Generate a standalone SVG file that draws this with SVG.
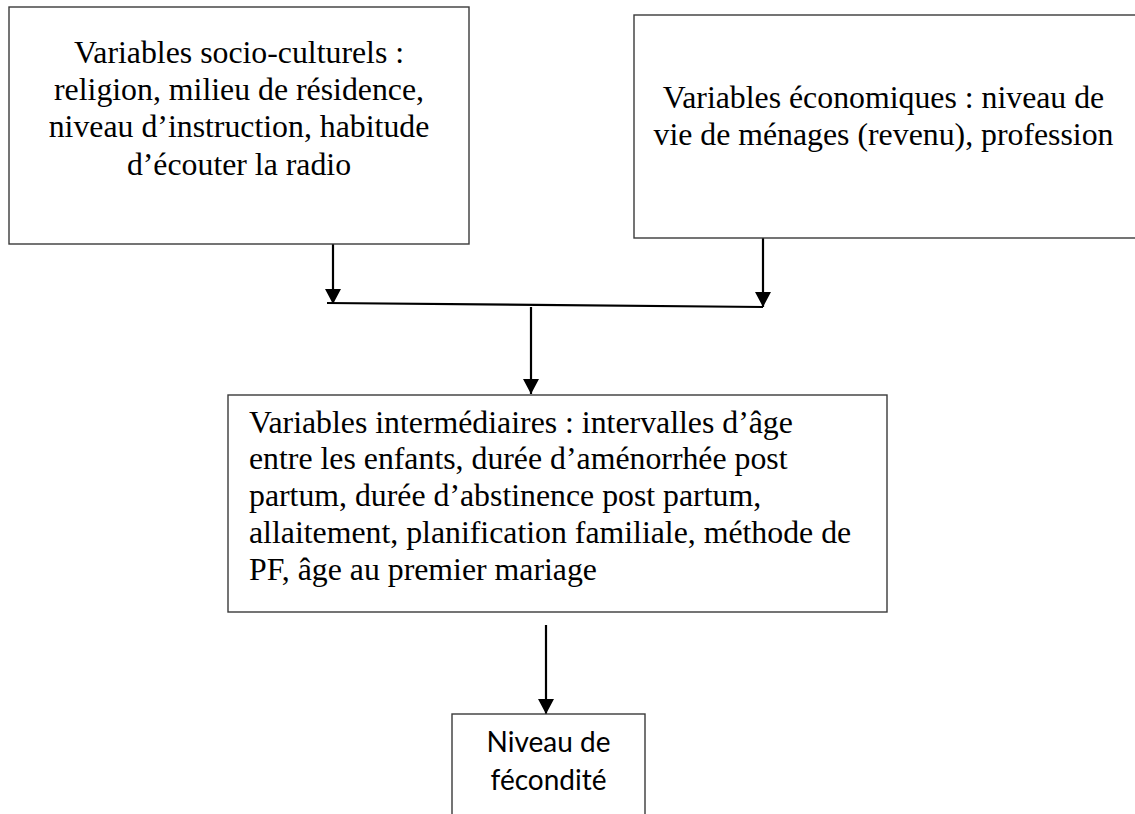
<svg xmlns="http://www.w3.org/2000/svg" width="1135" height="814" viewBox="0 0 1135 814">
<defs>
<style>
.box{fill:#fff;stroke:#3a3a3a;stroke-width:1.4}
.t{font-family:"Liberation Serif","Times New Roman",serif;font-size:31.8px;fill:#000}
.c{text-anchor:middle}
.s{font-family:Lato,"Liberation Sans",sans-serif;font-size:28px;fill:#000;text-anchor:middle}
.ln{stroke:#000;stroke-width:2.2;fill:none}
</style>
<marker id="ah" markerUnits="userSpaceOnUse" markerWidth="18" markerHeight="18" viewBox="0 0 18 18" refX="15" refY="9" orient="auto">
<path d="M0,1 L15,9 L0,17 Z" fill="#000"/>
</marker>
</defs>
<rect width="1135" height="814" fill="#fff"/>
<g id="connectors">
<line class="ln" x1="333" y1="244" x2="333" y2="304" marker-end="url(#ah)"/>
<line class="ln" x1="763" y1="238" x2="763" y2="307" marker-end="url(#ah)"/>
<line class="ln" x1="327" y1="303" x2="763" y2="307"/>
<line class="ln" x1="531" y1="307" x2="531" y2="394" marker-end="url(#ah)"/>
<line class="ln" x1="546" y1="625" x2="546" y2="714" marker-end="url(#ah)"/>
</g>
<g id="socio">
<rect class="box" x="9" y="7" width="460" height="237"/>
<text class="t c" x="239" y="63">Variables socio-culturels :</text>
<text class="t c" x="239" y="100">religion, milieu de résidence,</text>
<text class="t c" x="239" y="137">niveau d’instruction, habitude</text>
<text class="t c" x="239" y="175">d’écouter la radio</text>
</g>
<g id="eco">
<rect class="box" x="634" y="15" width="520" height="223"/>
<text class="t c" x="883.5" y="108">Variables économiques : niveau de</text>
<text class="t c" x="883.5" y="145">vie de ménages (revenu), profession</text>
</g>
<g id="inter">
<rect class="box" x="228" y="395" width="659" height="217"/>
<text class="t" x="249" y="433">Variables intermédiaires : intervalles d’âge</text>
<text class="t" x="249" y="469">entre les enfants, durée d’aménorrhée post</text>
<text class="t" x="249" y="506">partum, durée d’abstinence post partum,</text>
<text class="t" x="249" y="543">allaitement, planification familiale, méthode de</text>
<text class="t" x="249" y="580">PF, âge au premier mariage</text>
</g>
<g id="fec">
<rect class="box" x="452" y="714" width="193" height="120"/>
<text class="s" x="548.5" y="752">Niveau de</text>
<text class="s" x="548.5" y="790">fécondité</text>
</g>
</svg>
